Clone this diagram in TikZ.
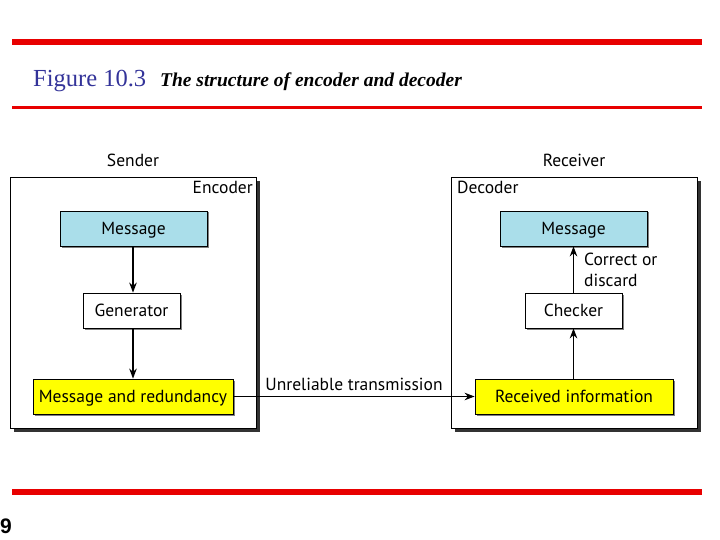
\documentclass[tikz,border=0pt]{standalone}
\usepackage{fontspec}
\setmainfont{Liberation Serif}
\newfontfamily\diagfont{PT Sans}
\newfontfamily\numfont{Liberation Sans}
\usetikzlibrary{arrows.meta,shadows}
\definecolor{redline}{RGB}{232,0,0}
\definecolor{figblue}{RGB}{51,51,153}
\definecolor{msgblue}{RGB}{170,222,234}
\definecolor{yel}{RGB}{255,255,0}
\tikzset{
  outerbox/.style={draw=black, line width=0.8pt, fill=white, drop shadow={shadow xshift=4pt, shadow yshift=-4pt, fill=black!80, opacity=1}},
  blk/.style={draw=black, line width=0.8pt, minimum height=35pt, font=\diagfont\fontsize{17.5}{20}\selectfont, inner sep=0pt,
     text height=12.2pt, text depth=0pt,
     drop shadow={shadow xshift=1.5pt, shadow yshift=-1.5pt, fill=black!50, opacity=1}},
  msg/.style={blk, fill=msgblue, minimum width=147pt},
  gen/.style={blk, fill=white, minimum width=97pt},
  ylw/.style={blk, fill=yel, minimum width=200pt},
  lbl/.style={font=\diagfont\fontsize{17.5}{20}\selectfont, inner sep=0pt},
  arr/.style={line width=1.4pt, -{Stealth[length=10pt,width=7.5pt]}},
}
\begin{document}
\begin{tikzpicture}[x=1pt,y=-1pt]
\useasboundingbox (0,0) rectangle (720,540);
% red rules
\fill[redline] (12,39) rectangle (702,45);
\fill[redline] (12,106) rectangle (702,109);
\fill[redline] (12,489) rectangle (702,495);
% titles
\node[anchor=base west, inner sep=0pt, text=figblue, font=\fontsize{24.5}{28}\selectfont] (fig) at (33,87) {Figure 10.3};
\node[anchor=base west, inner sep=0pt, font=\bfseries\itshape\fontsize{19.5}{22}\selectfont] (cap) at (160,87) {The structure of encoder and decoder};
\node[anchor=base west, inner sep=0pt, font=\numfont\bfseries\fontsize{21}{23}\selectfont] (pg) at (0,533) {9};
% outer boxes
\node[outerbox, anchor=north west, minimum width=246pt, minimum height=251pt, inner sep=0pt] (enc) at (10,177) {};
\node[outerbox, anchor=north west, minimum width=246pt, minimum height=251pt, inner sep=0pt] (dec) at (451,177) {};
\node[lbl, anchor=base] (sender) at (133,167) {Sender};
\node[lbl, anchor=base] (receiver) at (574,167) {Receiver};
\node[lbl, anchor=base east] (enclbl) at (253,194) {Encoder};
\node[lbl, anchor=base west] (declbl) at (457,194) {Decoder};
% encoder blocks
\node[msg] (m1) at (133.5,228.5) {Message};
\node[gen] (g) at (131.5,310.5) {Generator};
\node[ylw] (mr) at (133,396.5) {Message and redundancy};
% decoder blocks
\node[msg] (m2) at (573.5,228.5) {Message};
\node[gen] (c) at (573.5,310.5) {Checker};
\node[ylw, minimum width=198pt] (ri) at (574,396.5) {Received information};
% arrows
\draw[arr] (m1.south -| 133,0) -- (g.north -| 133,0);
\draw[arr] (g.south -| 133,0) -- (mr.north -| 133,0);
\draw[arr] (ri.north -| c.south) -- (c.south);
\draw[arr] (c.north) -- (m2.south -| c.north);
\draw[arr] (mr.east) -- node[lbl, above=5pt] (ut) {Unreliable transmission} (ri.west);
\node[lbl, anchor=base west] (cd1) at (584,265) {Correct or};
\node[lbl, anchor=base west] (cd2) at (584,286) {discard};
\end{tikzpicture}
\end{document}
